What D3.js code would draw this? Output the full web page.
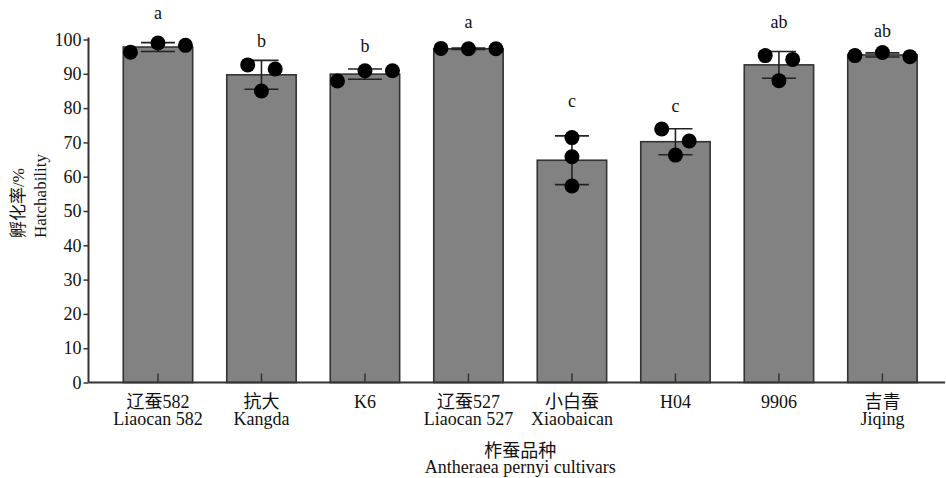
<!DOCTYPE html>
<html><head><meta charset="utf-8">
<script src="https://cdn.jsdelivr.net/npm/d3@7"></script>
<style>
body{margin:0;background:#fff}
svg text{font-family:'Liberation Serif','Times New Roman','DejaVu Serif','Noto Sans CJK SC',serif;}
</style>
</head><body>
<svg id="c" width="946" height="478"></svg>
<script>
const categoriesCN = ["辽蚕582","抗大","K6","辽蚕527","小白蚕","H04","9906","吉青"];
const categoriesEN = ["Liaocan 582","Kangda","","Liaocan 527","Xiaobaican","","","Jiqing"];
const means = [97.8, 89.7, 89.9, 97.3, 64.8, 70.2, 92.6, 95.5];
const errors = [1.3, 4.2, 1.5, 0.2, 7.1, 3.8, 3.9, 0.6];
const replicates = [
  [96.3, 99.0, 98.3],
  [92.6, 85.0, 91.4],
  [87.9, 90.9, 90.9],
  [97.4, 97.3, 97.3],
  [71.4, 65.8, 57.3],
  [73.9, 66.3, 70.4],
  [95.3, 88.0, 94.2],
  [95.3, 96.2, 95.0]
];
const letters = ["a","b","b","a","c","c","ab","ab"];
const letterValues = [106.0, 97.7, 96.4, 103.3, 80.4, 78.9, 103.3, 100.6];
const yTicks = [0,10,20,30,40,50,60,70,80,90,100];
const yTitle = ["孵化率/%","Hatchability"];
const xTitle = ["柞蚕品种","Antheraea pernyi cultivars"];

const svg = d3.select("#c");
const x0 = 88.5, x1 = 951.9, yBase = 382.5, yTop = 39.5;

const x = d3.scaleBand().domain(d3.range(categoriesCN.length)).range([x0, x1])
  .paddingInner(0.3295).paddingOuter(0.336);
const y = d3.scaleLinear().domain([0, 100]).range([yBase, yTop]);

// bars
svg.append("g").selectAll("rect").data(means).join("rect")
  .attr("x", (d,i) => x(i)).attr("width", x.bandwidth())
  .attr("y", d => y(d)).attr("height", d => yBase - y(d))
  .attr("fill", "#828282").attr("stroke", "#333").attr("stroke-width", 1.6);

// y axis
const gy = svg.append("g").attr("transform", `translate(${x0},0)`)
  .call(d3.axisLeft(y).tickValues(yTicks).tickSize(5).tickPadding(2));
gy.attr("font-family", null);
gy.select(".domain").attr("stroke", "#333").attr("stroke-width", 2)
  .attr("d", `M-0,${yTop-2}V${yBase}`);
gy.selectAll(".tick line").attr("stroke", "#333").attr("stroke-width", 1.5);
gy.selectAll(".tick text").attr("font-size", 18).attr("fill", "#111");

// x axis
const gx = svg.append("g").attr("transform", `translate(0,${yBase})`)
  .call(d3.axisBottom(x).tickSize(-9).tickFormat(""));
gx.select(".domain").attr("stroke", "#333").attr("stroke-width", 2)
  .attr("d", `M${x0},0H945`);
gx.selectAll(".tick line").attr("stroke", "#333").attr("stroke-width", 1.5);

const xl = svg.append("g").attr("font-size", 18).attr("fill", "#111")
  .attr("text-anchor", "middle");
categoriesCN.forEach((c, i) => {
  const cx = x(i) + x.bandwidth()/2;
  xl.append("text").attr("x", cx).attr("y", yBase + 25.5).text(c);
  if (categoriesEN[i]) xl.append("text").attr("x", cx).attr("y", yBase + 42.5).text(categoriesEN[i]);
});

// error bars
const capHalf = 17;
const eg = svg.append("g").attr("stroke", "#222").attr("stroke-width", 1.6);
means.forEach((m, i) => {
  const cx = x(i) + x.bandwidth()/2;
  const lo = y(m - errors[i]), hi = y(m + errors[i]);
  eg.append("line").attr("x1", cx).attr("x2", cx).attr("y1", lo).attr("y2", hi);
  eg.append("line").attr("x1", cx-capHalf).attr("x2", cx+capHalf).attr("y1", hi).attr("y2", hi);
  eg.append("line").attr("x1", cx-capHalf).attr("x2", cx+capHalf).attr("y1", lo).attr("y2", lo);
});

// points (simple swarm: overlapping replicates are spread sideways)
const spacing = 27.5, thr = 3.8;
const pg = svg.append("g");
replicates.forEach((vals, i) => {
  const cx = x(i) + x.bandwidth()/2;
  const order = d3.range(vals.length).sort((a,b) => vals[a]-vals[b]);
  const clusters = [];
  let cur = [order[0]];
  for (let k = 1; k < order.length; k++) {
    if (vals[order[k]] - vals[order[k-1]] < thr) cur.push(order[k]);
    else { clusters.push(cur); cur = [order[k]]; }
  }
  clusters.push(cur);
  const off = new Array(vals.length).fill(0);
  clusters.forEach(cl => {
    cl.sort((a,b) => a-b);
    cl.forEach((idx, j) => { off[idx] = (j - (cl.length-1)/2) * spacing; });
  });
  vals.forEach((v, k) => {
    pg.append("circle").attr("cx", cx + off[k]).attr("cy", y(v)).attr("r", 7.5)
      .attr("fill", "#000");
  });
});

// significance letters
svg.append("g").selectAll("text").data(letters).join("text")
  .attr("x", (d,i) => x(i) + x.bandwidth()/2).attr("y", (d,i) => y(letterValues[i]))
  .attr("text-anchor", "middle").attr("font-size", 18).attr("fill", "#111")
  .text(d => d);

// titles
const xt = svg.append("g").attr("font-size", 18).attr("fill", "#111")
  .attr("text-anchor", "middle");
xt.append("text").attr("x", (x0+x1)/2).attr("y", 456.5).text(xTitle[0]);
xt.append("text").attr("x", (x0+x1)/2).attr("y", 473).text(xTitle[1]);

const yt = svg.append("g").attr("font-size", 17).attr("fill", "#111")
  .attr("text-anchor", "start").attr("transform", "rotate(-90)");
yt.append("text").attr("x", -238).attr("y", 23.5).text(yTitle[0]);
yt.append("text").attr("x", -238).attr("y", 46).text(yTitle[1]);
</script>
</body></html>
